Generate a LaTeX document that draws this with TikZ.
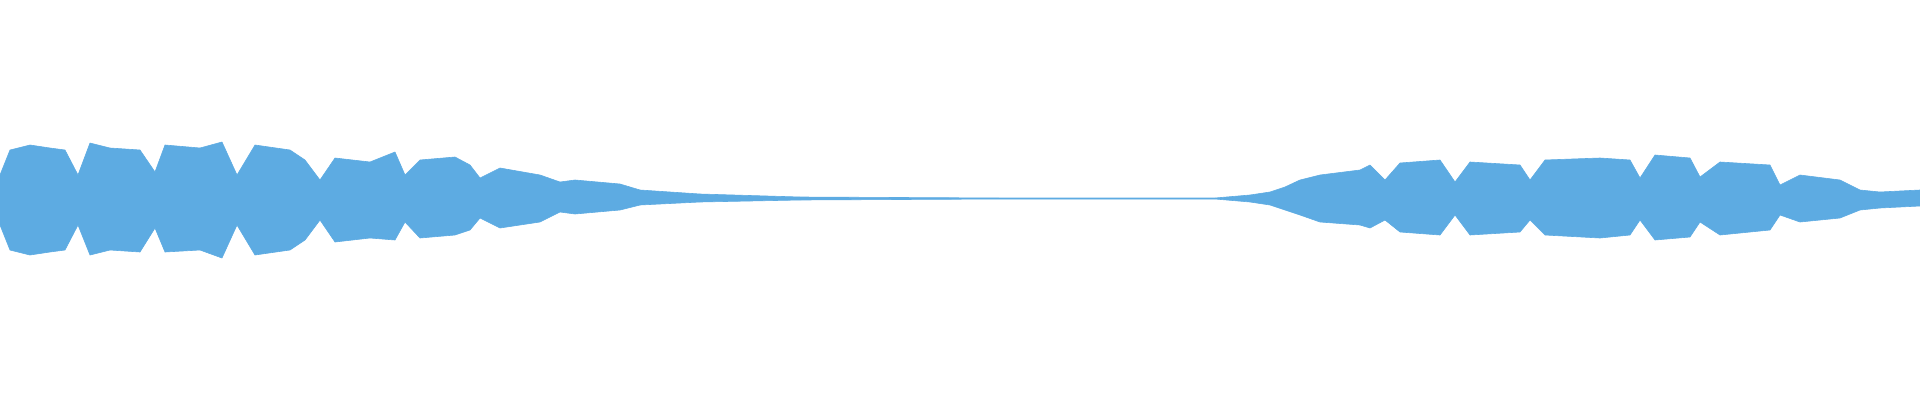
\documentclass[tikz,border=0pt]{standalone}
\definecolor{wave}{RGB}{93,171,226}
\tikzset{wavefill/.style={fill=wave,draw=wave,line width=0.6pt,line join=round}}
\begin{document}
\begin{tikzpicture}[x=1pt,y=-1pt]
\useasboundingbox (0,0) rectangle (1920,400);
% upper envelope left to right, then lower envelope back
\fill[wavefill] (0,175) -- (10,150) -- (30,145) -- (50,148) -- (65,150) -- (78,175)
  -- (90,143) -- (110,148) -- (140,150) -- (155,172) -- (165,145) -- (200,148)
  -- (222,142) -- (237,175) -- (255,145) -- (290,150) -- (305,160) -- (320,180)
  -- (335,158) -- (370,162) -- (395,152) -- (405,175) -- (420,160) -- (455,157)
  -- (470,165) -- (480,178) -- (500,168) -- (540,175) -- (560,182) -- (575,180)
  -- (620,184) -- (640,190) -- (700,194) -- (800,197) -- (1000,198) -- (1215,198)
  -- (1250,195) -- (1270,192) -- (1285,187) -- (1300,180) -- (1320,175) -- (1360,170)
  -- (1370,165) -- (1385,180) -- (1400,163) -- (1440,160) -- (1455,182) -- (1470,162)
  -- (1520,165) -- (1530,180) -- (1545,160) -- (1600,158) -- (1630,160) -- (1640,178)
  -- (1655,155) -- (1690,158) -- (1700,177) -- (1720,162) -- (1770,165) -- (1780,185)
  -- (1800,175) -- (1840,180) -- (1860,190) -- (1880,192) -- (1920,190)
  -- (1920,206) -- (1880,208) -- (1860,210) -- (1840,218) -- (1800,222) -- (1780,215)
  -- (1770,230) -- (1720,235) -- (1700,222) -- (1690,237) -- (1655,240) -- (1640,220)
  -- (1630,235) -- (1600,238) -- (1545,235) -- (1530,220) -- (1520,232) -- (1470,235)
  -- (1455,215) -- (1440,235) -- (1400,232) -- (1385,220) -- (1370,228) -- (1360,225)
  -- (1320,222) -- (1300,215) -- (1285,210) -- (1270,205) -- (1250,202) -- (1215,199)
  -- (1000,199) -- (800,200) -- (700,202) -- (640,205) -- (620,210) -- (575,214)
  -- (560,212) -- (540,222) -- (500,228) -- (480,218) -- (470,230) -- (455,235)
  -- (420,238) -- (405,222) -- (395,240) -- (370,238) -- (335,242) -- (320,220)
  -- (305,240) -- (290,250) -- (255,255) -- (237,225) -- (222,258) -- (200,250)
  -- (165,252) -- (155,228) -- (140,252) -- (110,250) -- (90,255) -- (78,225)
  -- (65,250) -- (50,252) -- (30,255) -- (10,250) -- (0,225) -- cycle;
\end{tikzpicture}
\end{document}
